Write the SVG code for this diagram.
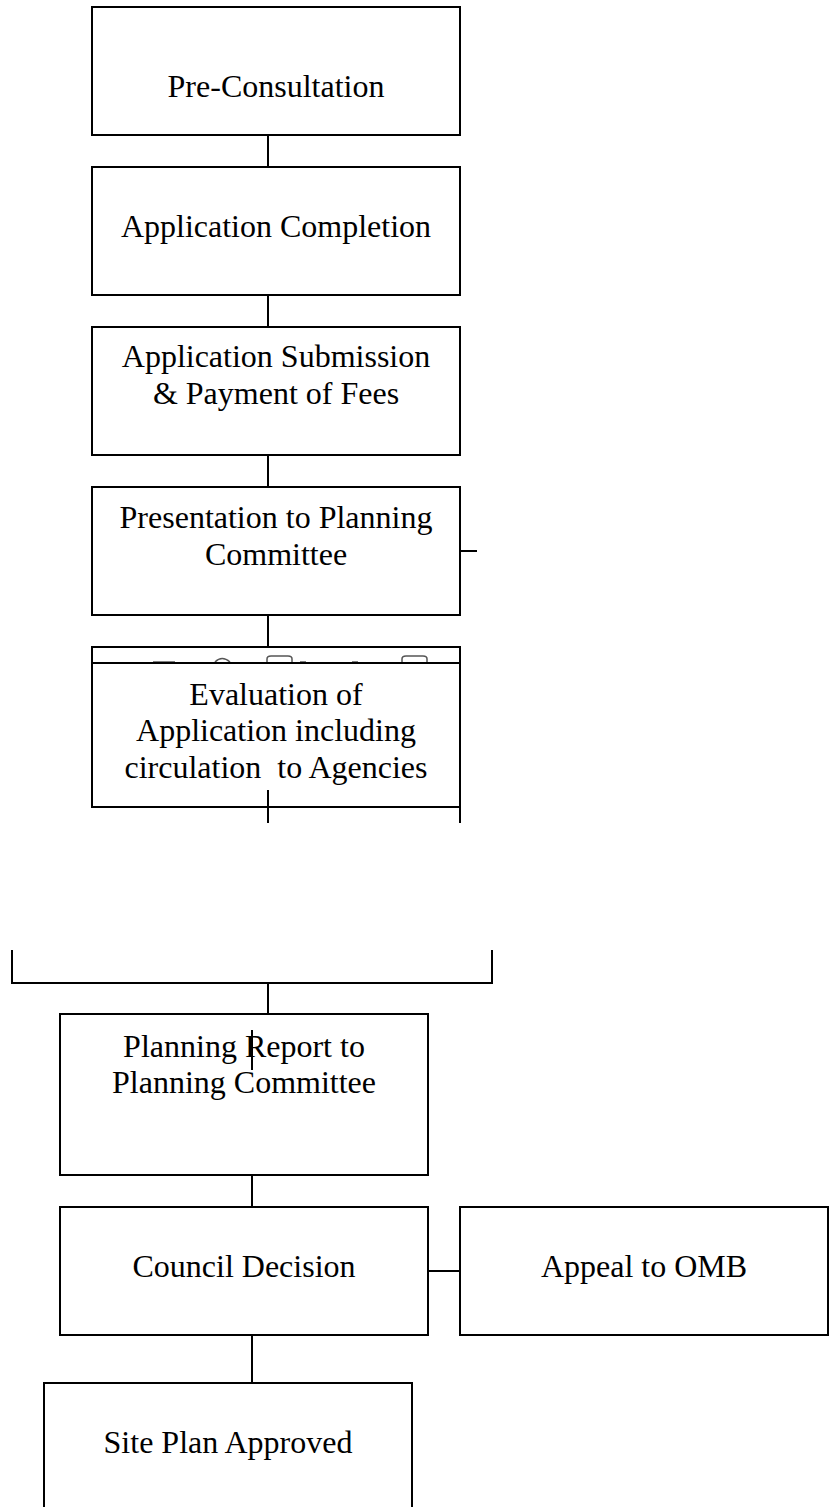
<svg xmlns="http://www.w3.org/2000/svg" width="830" height="1507" viewBox="0 0 830 1507">
<style>
.box{fill:#fff;stroke:#000;stroke-width:2}
.ln{stroke:#000;stroke-width:2;fill:none}
.t{font-family:"Liberation Serif","Times New Roman",serif;font-size:32px;fill:#000;text-anchor:middle}
.art{stroke:#555;stroke-width:1.5;fill:none}
</style>
<rect width="830" height="1507" fill="#fff"/>
<g id="pre-consultation">
<rect class="box" x="92" y="7" width="368" height="128"/>
<text class="t" x="276" y="97">Pre-Consultation</text>
</g>
<g id="application-completion">
<rect class="box" x="92" y="167" width="368" height="128"/>
<text class="t" x="276" y="237">Application Completion</text>
</g>
<g id="application-submission">
<rect class="box" x="92" y="327" width="368" height="128"/>
<text class="t" x="276" y="367">Application Submission</text>
<text class="t" x="276" y="404">&amp; Payment of Fees</text>
</g>
<g id="presentation">
<rect class="box" x="92" y="487" width="368" height="128"/>
<text class="t" x="276" y="528">Presentation to Planning</text>
<text class="t" x="276" y="565">Committee</text>
</g>
<g id="evaluation">
<rect class="box" x="92" y="647" width="368" height="16"/>
<path class="art" d="M153,662 H175 M215,662 Q222,655 230,662 M267,662 V659 Q267,656 271,656 H288 Q292,656 292,659 V662 M300,662 H306 M352,662 H358 M402,662 V659 Q402,656 406,656 H423 Q427,656 427,659 V662"/>
<rect class="box" x="92" y="663" width="368" height="144"/>
<text class="t" x="276" y="705">Evaluation of</text>
<text class="t" x="276" y="741">Application including</text>
<text class="t" x="276" y="778" xml:space="preserve">circulation  to Agencies</text>
</g>
<g id="planning-report">
<rect class="box" x="60" y="1014" width="368" height="161"/>
<text class="t" x="244" y="1057">Planning Report to</text>
<text class="t" x="244" y="1093">Planning Committee</text>
</g>
<g id="council-decision">
<rect class="box" x="60" y="1207" width="368" height="128"/>
<text class="t" x="244" y="1277">Council Decision</text>
</g>
<g id="appeal">
<rect class="box" x="460" y="1207" width="368" height="128"/>
<text class="t" x="644" y="1277">Appeal to OMB</text>
</g>
<g id="site-plan">
<rect class="box" x="44" y="1383" width="368" height="140"/>
<text class="t" x="228" y="1453">Site Plan Approved</text>
</g>
<g id="connectors">
<line class="ln" x1="268" y1="135" x2="268" y2="167"/>
<line class="ln" x1="268" y1="295" x2="268" y2="327"/>
<line class="ln" x1="268" y1="455" x2="268" y2="487"/>
<line class="ln" x1="460" y1="551" x2="477" y2="551"/>
<line class="ln" x1="268" y1="615" x2="268" y2="647"/>
<line class="ln" x1="268" y1="790" x2="268" y2="823"/>
<line class="ln" x1="460" y1="807" x2="460" y2="823"/>
<polyline class="ln" points="12,950 12,983 492,983 492,950"/>
<line class="ln" x1="268" y1="983" x2="268" y2="1014"/>
<line class="ln" x1="252" y1="1030" x2="252" y2="1070"/>
<line class="ln" x1="252" y1="1175" x2="252" y2="1207"/>
<line class="ln" x1="428" y1="1271" x2="460" y2="1271"/>
<line class="ln" x1="252" y1="1335" x2="252" y2="1383"/>
</g>
</svg>
